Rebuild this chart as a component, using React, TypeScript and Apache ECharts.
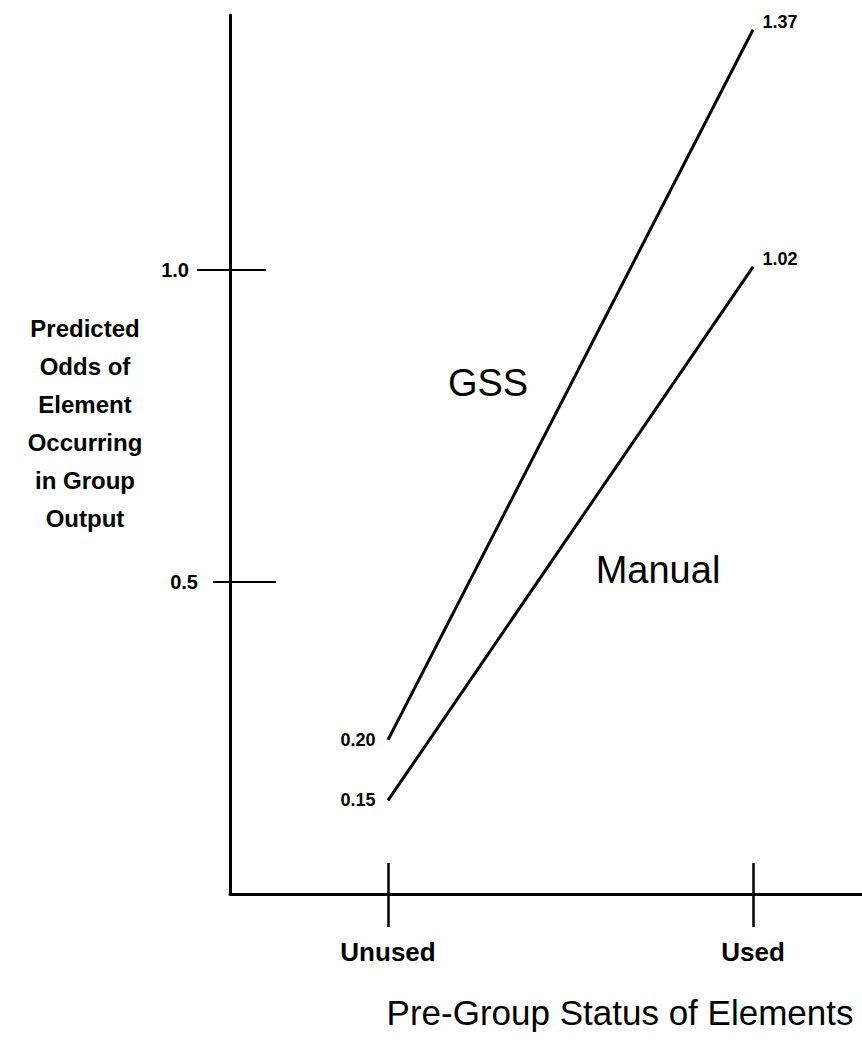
import React, { useEffect, useRef } from "react";
import * as echarts from "echarts";

const categories = ["Unused", "Used"];
const categoryPositions = [1, 2];
const gssValues = [0.247, 1.385];
const gssLabels = ["0.20", "1.37"];
const manualValues = [0.15, 1.005];
const manualLabels = ["0.15", "1.02"];
const yTickValues = [0.5, 1.0];
const yTickLabels = ["0.5", "1.0"];
const yTitleLines = ["Predicted", "Odds of", "Element", "Occurring", "in Group", "Output"];
const xTitle = "Pre-Group Status of Elements";

const FONT = "'Liberation Sans', Arial, sans-serif";

export default function App() {
  const ref = useRef<HTMLDivElement>(null);
  useEffect(() => {
    if (!ref.current) return;
    const chart = echarts.init(ref.current, null, { renderer: "svg" });
    const xMin = 0.5671;
    const xMax = 2.2986;
    const yMin = 0;
    const yMax = 1.4087;

    const mkData = (vals: number[], labels: string[]) =>
      vals.map((v, i) => ({
        value: [categoryPositions[i], v],
        label:
          i === 0
            ? { show: true, position: "left", distance: 12, formatter: labels[i] }
            : { show: true, position: "right", distance: 9, offset: [0, -8], formatter: labels[i] },
      }));

    const labelStyle = { show: true, color: "#000", fontFamily: FONT, fontWeight: "bold", fontSize: 18 };

    const yBase = {
      type: "value",
      min: yMin,
      max: yMax,
      position: "left",
      offset: 0,
      splitLine: { show: false },
    };
    const xBase = {
      type: "value",
      min: xMin,
      max: xMax,
      position: "bottom",
      offset: 0,
      splitLine: { show: false },
    };

    const seriesBase = {
      type: "line",
      xAxisIndex: 0,
      yAxisIndex: 0,
      symbol: "circle",
      symbolSize: 1,
      showSymbol: true,
      itemStyle: { color: "rgba(0,0,0,0)" },
      lineStyle: { color: "#000", width: 3 },
      label: labelStyle,
    };

    chart.setOption({
      animation: false,
      backgroundColor: "#fff",
      grid: { left: 230, right: 0, top: 15, bottom: 158, containLabel: false },
      xAxis: [
        {
          ...xBase,
          axisLine: { show: true, lineStyle: { color: "#000", width: 3 } },
          axisTick: { show: true, customValues: categoryPositions, length: 33, inside: false, lineStyle: { color: "#000", width: 2.5 } },
          axisLabel: {
            show: true,
            customValues: categoryPositions,
            formatter: (v: number) => categories[Math.round(v) - 1] ?? "",
            margin: 45,
            color: "#000",
            fontFamily: FONT,
            fontWeight: "bold",
            fontSize: 26,
          },
        },
        {
          ...xBase,
          axisLine: { show: false },
          axisTick: { show: true, customValues: categoryPositions, length: 31, inside: true, lineStyle: { color: "#000", width: 2.5 } },
          axisLabel: { show: false },
        },
      ],
      yAxis: [
        {
          ...yBase,
          axisLine: { show: true, lineStyle: { color: "#000", width: 3 } },
          axisTick: { show: true, customValues: [yTickValues[1]], length: 33, lineStyle: { color: "#000", width: 2 } },
          axisLabel: {
            show: true,
            customValues: [yTickValues[1]],
            formatter: () => yTickLabels[1],
            margin: 41,
            color: "#000",
            fontFamily: FONT,
            fontWeight: "bold",
            fontSize: 20,
          },
        },
        {
          ...yBase,
          axisLine: { show: false },
          axisTick: { show: true, customValues: [yTickValues[0]], length: 17, lineStyle: { color: "#000", width: 2 } },
          axisLabel: {
            show: true,
            customValues: [yTickValues[0]],
            formatter: () => yTickLabels[0],
            margin: 32,
            color: "#000",
            fontFamily: FONT,
            fontWeight: "bold",
            fontSize: 20,
          },
        },
        {
          ...yBase,
          axisLine: { show: false },
          axisTick: { show: true, inside: true, customValues: [yTickValues[1]], length: 36, lineStyle: { color: "#000", width: 2 } },
          axisLabel: { show: false },
        },
        {
          ...yBase,
          axisLine: { show: false },
          axisTick: { show: true, inside: true, customValues: [yTickValues[0]], length: 46, lineStyle: { color: "#000", width: 2 } },
          axisLabel: { show: false },
        },
      ],
      series: [
        { ...seriesBase, name: "GSS", data: mkData(gssValues, gssLabels) },
        { ...seriesBase, name: "Manual", data: mkData(manualValues, manualLabels) },
      ],
      graphic: [
        {
          type: "text",
          x: 85,
          y: 309,
          style: {
            text: yTitleLines.join("\n"),
            textAlign: "center",
            fill: "#000",
            font: `bold 24px ${FONT}`,
            lineHeight: 38,
          },
        },
        {
          type: "text",
          x: 620,
          y: 995,
          style: { text: xTitle, textAlign: "center", fill: "#000", font: `35px ${FONT}` },
        },
        {
          type: "text",
          x: 488,
          y: 364,
          style: { text: "GSS", textAlign: "center", fill: "#000", font: `38px ${FONT}` },
        },
        {
          type: "text",
          x: 658,
          y: 551,
          style: { text: "Manual", textAlign: "center", fill: "#000", font: `38px ${FONT}` },
        },
      ],
    });
    return () => chart.dispose();
  }, []);
  return (
    <div
      ref={ref}
      style={{ position: "absolute", left: 0, top: 0, width: 862, height: 1052 }}
    />
  );
}
